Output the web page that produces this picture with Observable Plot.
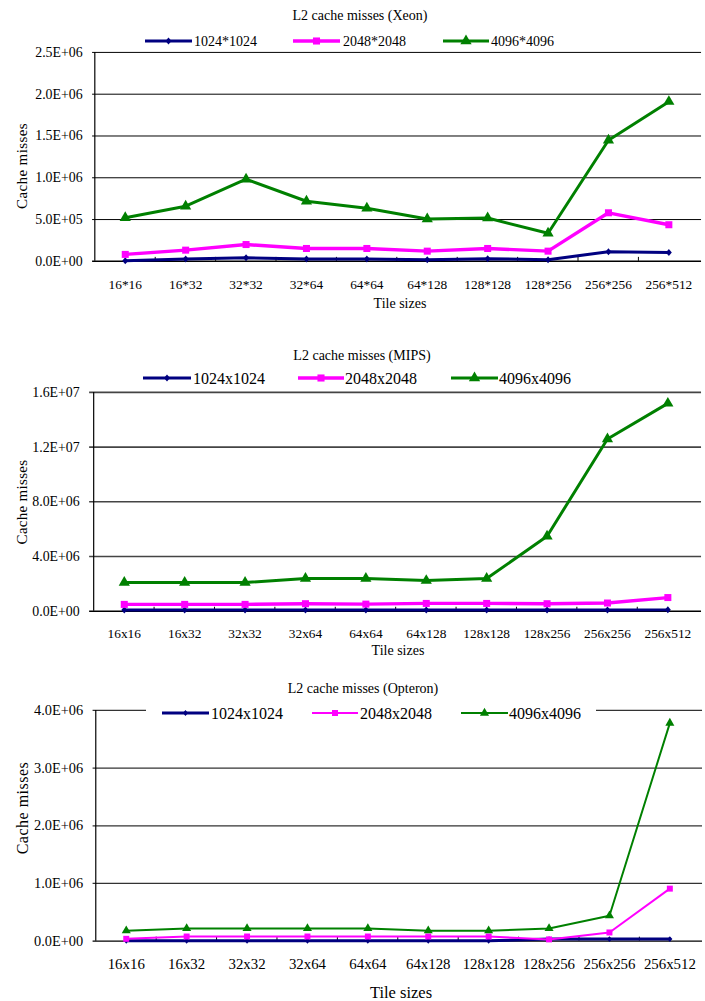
<!DOCTYPE html>
<html><head><meta charset="utf-8">
<script src="https://cdn.jsdelivr.net/npm/d3@7"></script>
<script src="https://cdn.jsdelivr.net/npm/@observablehq/plot@0.6"></script>
<style>
html,body{margin:0;padding:0;width:705px;height:1001px;overflow:hidden;background:#fff;}
#root{position:relative;width:705px;height:1001px;overflow:hidden;}
.panel{position:absolute;left:0;}
#overlay{position:absolute;left:0;top:0;pointer-events:none;}
</style></head><body><div id="root"></div>
<script>
// ---------- data ----------
const xeonCats = ["16*16","16*32","32*32","32*64","64*64","64*128","128*128","128*256","256*256","256*512"];
const mipsCats = ["16x16","16x32","32x32","32x64","64x64","64x128","128x128","128x256","256x256","256x512"];
const opteronCats = ["16x16","16x32","32x32","32x64","64x64","64x128","128x128","128x256","256x256","256x512"];

const xeonNames = ["1024*1024","2048*2048","4096*4096"];
const mipsNames = ["1024x1024","2048x2048","4096x4096"];
const opteronNames = ["1024x1024","2048x2048","4096x4096"];

const xeon1024 = [8e3, 2.8e4, 4.3e4, 2.8e4, 2.8e4, 2.0e4, 3.2e4, 2.0e4, 1.15e5, 1.07e5];
const xeon2048 = [8.3e4, 1.34e5, 2.01e5, 1.54e5, 1.54e5, 1.22e5, 1.54e5, 1.22e5, 5.81e5, 4.38e5];
const xeon4096 = [5.21e5, 6.6e5, 9.83e5, 7.19e5, 6.36e5, 5.06e5, 5.18e5, 3.36e5, 1.449e6, 1.911e6];

const mips1024 = [9e4, 9e4, 9e4, 9e4, 9e4, 9e4, 9e4, 9e4, 9e4, 1.0e5];
const mips2048 = [5.0e5, 5.0e5, 5.0e5, 5.5e5, 5.2e5, 5.7e5, 5.7e5, 5.5e5, 6.0e5, 1.0e6];
const mips4096 = [2.1e6, 2.1e6, 2.1e6, 2.39e6, 2.39e6, 2.24e6, 2.39e6, 5.48e6, 1.26e7, 1.52e7];

const opteron1024 = [5e3, 5e3, 5e3, 5e3, 5e3, 5e3, 5e3, 3.5e4, 3.5e4, 3.5e4];
const opteron2048 = [4e4, 8e4, 8e4, 8e4, 8e4, 8e4, 8e4, 3e4, 1.5e5, 9.1e5];
const opteron4096 = [1.8e5, 2.2e5, 2.2e5, 2.2e5, 2.2e5, 1.8e5, 1.8e5, 2.2e5, 4.4e5, 3.78e6];

const xeonYTicks = [0, 5e5, 1e6, 1.5e6, 2e6, 2.5e6];
const mipsYTicks = [0, 4e6, 8e6, 1.2e7, 1.6e7];
const opteronYTicks = [0, 1e6, 2e6, 3e6, 4e6];

const titles = ["L2 cache misses (Xeon)", "L2 cache misses (MIPS)", "L2 cache misses (Opteron)"];
const xLabel = "Tile sizes";
const yLabel = "Cache misses";

const colors = ["#000080", "#FF00FF", "#008000"];

// wider, Excel-like diamond
const excelDiamond = {
  draw(context, size) {
    const h = Math.sqrt(size / 1.7);   // half height
    const w = h * 0.85;                // half width
    context.moveTo(0, -h);
    context.lineTo(w, 0);
    context.lineTo(0, h);
    context.lineTo(-w, 0);
    context.closePath();
  }
};
const symbolTypes = [excelDiamond, d3.symbolSquare, d3.symbolTriangle];

// ---------- layout ----------
const panels = [
  {cats: xeonCats, names: xeonNames, values: [xeon1024, xeon2048, xeon4096], yTicks: xeonYTicks, title: titles[0],
   top: 52, bottom: 263, left: 93, right: 708, grid: "#000", gridW: 1, lineWs: [3, 3.4, 3], rs: [2.6, 4.0, 4.2],
   xFont: 13.5, yFont: 14, xPad: 18,
   titleY: 15, titleX: 360, titleFont: 14,
   legY: 41, legFont: 14, leg: [[145,192,194],[293,340,343],[443,489,491]], legBox: null,
   xlabY: 303, xlabX: 400, xlabFont: 14, ylabY: 166, ylabFont: 15, ylabLS: 0.4},
  {cats: mipsCats, names: mipsNames, values: [mips1024, mips2048, mips4096], yTicks: mipsYTicks, title: titles[1],
   top: 392, bottom: 613, left: 90, right: 708, grid: "#444", gridW: 1.6, lineWs: [3, 3.4, 3], rs: [2.6, 4.0, 4.2],
   xFont: 13.5, yFont: 14, xPad: 17,
   titleY: 355, titleX: 362, titleFont: 14,
   legY: 378, legFont: 16, leg: [[143,191,193],[298,344,345],[451,498,499]], legBox: null,
   xlabY: 650, xlabX: 398, xlabFont: 14, ylabY: 502, ylabFont: 15, ylabLS: 0.3},
  {cats: opteronCats, names: opteronNames, values: [opteron1024, opteron2048, opteron4096], yTicks: opteronYTicks, title: titles[2],
   top: 710, bottom: 943, left: 93.5, right: 709, grid: "#333", gridW: 1.3, lineWs: [3, 2, 2], rs: [2.2, 3.4, 3.4],
   xFont: 15, yFont: 14.5, xPad: 18,
   titleY: 688, titleX: 363, titleFont: 14,
   legY: 713, legFont: 16, leg: [[162,209,211],[312,358,360],[461,508,509]], legBox: [146, 702, 450, 22],
   xlabY: 992, xlabX: 401, xlabFont: 16.5, ylabY: 808, ylabFont: 16, ylabLS: 0.5}
];

function fmtE(d) {
  const [m, e] = d.toExponential(1).split("e");
  const sign = e[0] === "-" ? "-" : "+";
  return m + "E" + sign + String(Math.abs(+e)).padStart(2, "0");
}

const root = document.getElementById("root");
const FONT = "'Liberation Serif', 'Times New Roman', serif";

panels.forEach(p => {
  const mt = 8, mb = 40;
  const W = 712;
  const plotH = p.bottom - p.top;
  const H = mt + plotH + mb;
  const yMax = p.yTicks[p.yTicks.length - 1];
  const step = (p.right - p.left) / p.cats.length;
  const tickLen = yMax * 4 / plotH;
  const marks = [
    Plot.gridY(p.yTicks.slice(1), {stroke: p.grid, strokeOpacity: 1, strokeWidth: p.gridW}),
    Plot.ruleY([0], {stroke: "#000", strokeWidth: 1.5}),
    Plot.ruleX([p.cats[0]], {dx: -step / 2, stroke: "#000", strokeWidth: 1.2}),
    Plot.ruleX(p.cats.slice(1), {x: d => d, dx: -step / 2, y1: 0, y2: tickLen, stroke: "#000", strokeWidth: 1}),
    Plot.axisY(p.yTicks, {tickFormat: fmtE, tickSize: 0, tickPadding: 10, fontSize: p.yFont, label: null, fill: "#000"}),
    Plot.axisX({tickSize: 0, tickPadding: p.xPad, fontSize: p.xFont, label: null, fill: "#000"})
  ];
  p.values.forEach((vals, i) => {
    const rows = p.cats.map((c, j) => ({cat: c, value: vals[j]}));
    marks.push(Plot.line(rows, {x: "cat", y: "value", stroke: colors[i], strokeWidth: p.lineWs[i]}));
    marks.push(Plot.dot(rows, {x: "cat", y: "value", symbol: symbolTypes[i], fill: colors[i], stroke: "none", r: p.rs[i]}));
  });
  const chart = Plot.plot({
    width: W, height: H,
    marginTop: mt, marginBottom: mb, marginLeft: p.left, marginRight: W - p.right,
    x: {type: "point", domain: p.cats, padding: 0.5, label: null, axis: null},
    y: {domain: [0, yMax], label: null, axis: null},
    style: {fontFamily: FONT, background: "transparent", color: "#000", overflow: "visible"},
    marks
  });
  chart.classList.add("panel");
  chart.style.top = (p.top - mt) + "px";
  root.appendChild(chart);
});

// ---------- overlay texts & legends ----------
const ov = d3.select(root).append("svg").attr("id", "overlay")
  .attr("width", 705).attr("height", 1001).style("font-family", FONT);

panels.forEach(p => {
  ov.append("text").attr("x", p.titleX).attr("y", p.titleY).attr("text-anchor", "middle")
    .attr("dominant-baseline", "central").style("font-size", p.titleFont + "px").text(p.title);
  if (p.legBox) {
    ov.append("rect").attr("x", p.legBox[0]).attr("y", p.legBox[1]).attr("width", p.legBox[2]).attr("height", p.legBox[3]).attr("fill", "#fff");
  }
  p.leg.forEach((L, i) => {
    ov.append("line").attr("x1", L[0]).attr("x2", L[1]).attr("y1", p.legY).attr("y2", p.legY)
      .attr("stroke", colors[i]).attr("stroke-width", p.lineWs[i]);
    const r = p.rs[i];
    ov.append("path").attr("d", d3.symbol(symbolTypes[i], r * r * Math.PI)())
      .attr("transform", `translate(${(L[0] + L[1]) / 2},${p.legY})`).attr("fill", colors[i]);
    ov.append("text").attr("x", L[2]).attr("y", p.legY).attr("dominant-baseline", "central")
      .style("font-size", p.legFont + "px").text(p.names[i]);
  });
  ov.append("text").attr("x", p.xlabX).attr("y", p.xlabY).attr("text-anchor", "middle")
    .attr("dominant-baseline", "central").style("font-size", p.xlabFont + "px").text(xLabel);
  ov.append("text").attr("transform", `translate(22,${p.ylabY}) rotate(-90)`).attr("text-anchor", "middle")
    .attr("dominant-baseline", "central").style("font-size", p.ylabFont + "px")
    .style("letter-spacing", p.ylabLS + "px").text(yLabel);
});
</script>
</body></html>
